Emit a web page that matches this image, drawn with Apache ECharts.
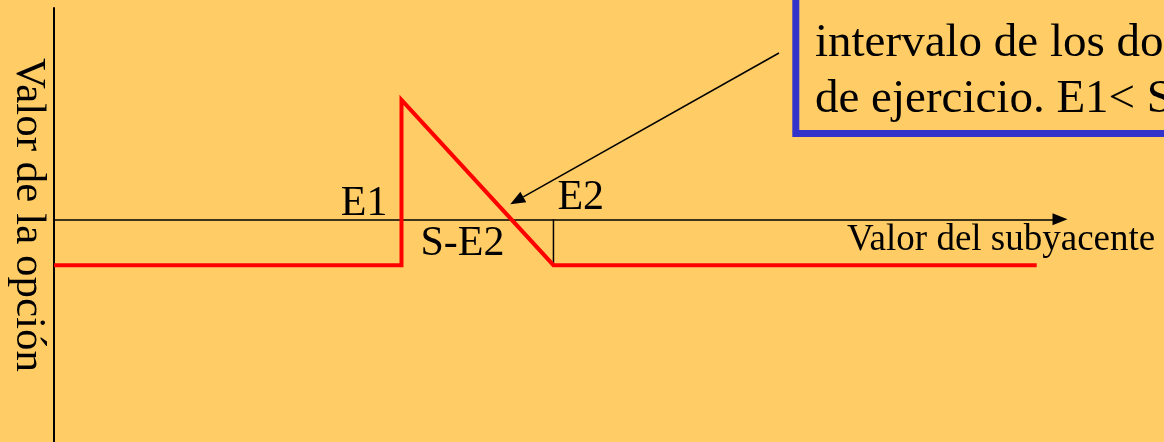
<!DOCTYPE html>
<html>
<head>
<meta charset="utf-8">
<script src="https://cdn.jsdelivr.net/npm/echarts@6/dist/echarts.min.js"></script>
<style>
  html, body { margin: 0; padding: 0; background: #ffcc66; }
  #chart { width: 1164px; height: 442px; }
</style>
</head>
<body>
<div id="chart"></div>
<script>
// payoff (x = underlying value, y = option value)
const spot = [0, 34.3, 34.3, 49.3, 97];
const optionValue = [-2, -2, 5.2, -2, -2];
const strikes = [34.3, 49.3];
const strikeLabels = ["E1", "E2"];
const spreadLabel = "S-E2";
const xName = "Valor del subyacente";
const yName = "Valor de la opción";
const noteLines = ["encuentra dentro del", "intervalo de los dos precios", "de ejercicio. E1< S < E2"];

const serif = '"Liberation Serif", "Times New Roman", serif';
const chart = echarts.init(document.getElementById("chart"));

const payoff = spot.map((s, i) => [s, optionValue[i]]);
const e2Tick = [[strikes[1], 0], [strikes[1], optionValue[0]]];

chart.setOption({
  backgroundColor: "#ffcc66",
  animation: false,
  grid: { left: 54, right: 104, top: 8, bottom: 0 },
  xAxis: {
    type: "value",
    min: 0,
    max: 99.3,
    axisLine: {
      show: true,
      onZero: true,
      symbol: ["none", "triangle"],
      symbolSize: [12, 15],
      lineStyle: { color: "#000", width: 1.5 },
    },
    axisTick: { show: false },
    axisLabel: { show: false },
    splitLine: { show: false },
  },
  yAxis: {
    type: "value",
    min: -9.7,
    max: 9.2,
    axisLine: { show: true, lineStyle: { color: "#000", width: 2 } },
    axisTick: { show: false },
    axisLabel: { show: false },
    splitLine: { show: false },
  },
  series: [
    {
      type: "line",
      data: e2Tick,
      symbol: "none",
      lineStyle: { color: "#000", width: 1.5 },
    },
    {
      type: "line",
      data: payoff,
      symbol: "none",
      lineStyle: { color: "#ff0000", width: 4, join: "miter" },
    },
  ],
});

// annotations placed relative to the data
const p = (x, y) => chart.convertToPixel({ gridIndex: 0 }, [x, y]);
const e1 = p(strikes[0], 0);
const e2 = p(strikes[1], 0);
const low = p(strikes[0], optionValue[0]);
const cross = p(34.3 + (49.3 - 34.3) * 5.2 / 7.2, 0);

const txt = (text, x, y, size, align) => ({
  type: "text",
  x: x,
  y: y,
  style: {
    text: text,
    font: size + "px " + serif,
    fill: "#000",
    align: align || "left",
    verticalAlign: "middle",
  },
});

// arrow from the note box to the crossing point
const tail = [779, 53];
const tip = [cross[0] - 1, cross[1] - 15];
const dx = tip[0] - tail[0], dy = tip[1] - tail[1];
const len = Math.sqrt(dx * dx + dy * dy);
const ux = dx / len, uy = dy / len;
const bx = tip[0] - 15 * ux, by = tip[1] - 15 * uy;

const graphics = [
  txt(strikeLabels[0], e1[0] - 14, e1[1] - 15, 42, "right"),
  txt(strikeLabels[1], e2[0] + 4, e2[1] - 21, 42, "left"),
  txt(spreadLabel, (e1[0] + e2[0]) / 2 - 15, low[1] - 21, 42, "center"),
  txt(xName, 847, 240, 37, "left"),
  {
    type: "text",
    x: 28,
    y: 215,
    rotation: -Math.PI / 2,
    style: {
      text: yName,
      font: "43px " + serif,
      fill: "#000",
      align: "center",
      verticalAlign: "middle",
    },
  },
  {
    type: "rect",
    shape: { x: 795.8, y: -100, width: 500, height: 233.5 },
    style: { fill: "#ffcc66", stroke: "#3333cc", lineWidth: 7 },
  },
  {
    type: "line",
    shape: { x1: tail[0], y1: tail[1], x2: bx, y2: by },
    style: { stroke: "#000", lineWidth: 1.5 },
  },
  {
    type: "polygon",
    shape: {
      points: [
        tip,
        [bx - 6 * uy, by + 6 * ux],
        [bx + 6 * uy, by - 6 * ux],
      ],
    },
    style: { fill: "#000" },
  },
];
noteLines.forEach((line, i) => {
  graphics.push(txt(line, 815, -12 + i * 56, 47, "left"));
});

chart.setOption({ graphic: graphics });
</script>
</body>
</html>
